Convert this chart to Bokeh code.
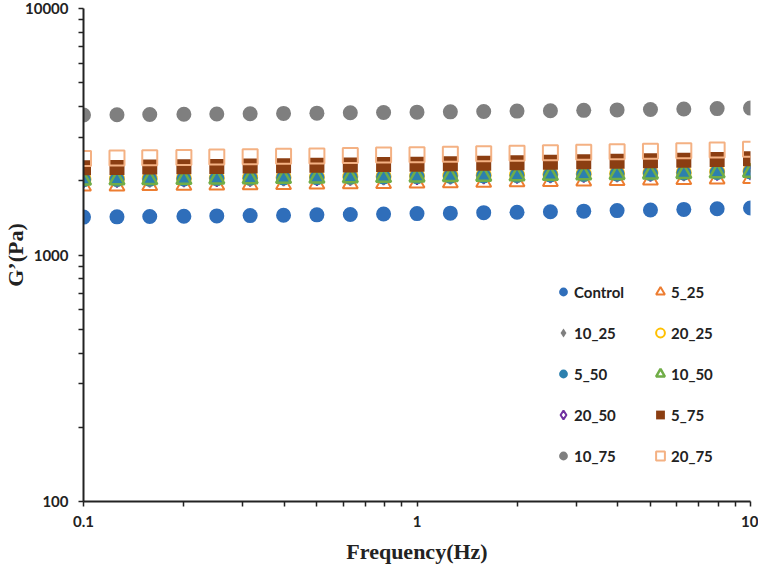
from bokeh.plotting import figure
from bokeh.models import Legend, LegendItem, FixedTicker, CustomJSTickFormatter
from bokeh.embed import file_html
from bokeh.resources import INLINE

freq = [0.1, 0.126, 0.158, 0.2, 0.251, 0.316, 0.398, 0.501, 0.631, 0.794, 1.0,
        1.259, 1.585, 1.995, 2.512, 3.162, 3.981, 5.012, 6.31, 7.943, 10.0]

control = [1425, 1428, 1432, 1436, 1441, 1445, 1450, 1455, 1460, 1466, 1472, 1478, 1485, 1491, 1498, 1506, 1514, 1522, 1531, 1541, 1552]
s5_25 = [1900, 1904, 1909, 1914, 1919, 1925, 1930, 1936, 1942, 1949, 1955, 1962, 1969, 1977, 1985, 1993, 2002, 2011, 2021, 2031, 2042]
s10_25 = [2040, 2045, 2050, 2056, 2062, 2068, 2074, 2080, 2087, 2094, 2101, 2109, 2117, 2125, 2134, 2143, 2152, 2162, 2173, 2184, 2196]
s20_25 = [2030, 2035, 2040, 2046, 2052, 2058, 2064, 2070, 2077, 2084, 2091, 2099, 2107, 2115, 2124, 2133, 2142, 2152, 2163, 2174, 2186]
s5_50 = [2020, 2025, 2030, 2035, 2041, 2047, 2053, 2059, 2066, 2073, 2080, 2087, 2095, 2103, 2112, 2121, 2130, 2140, 2150, 2161, 2173]
s10_50 = [2010, 2015, 2020, 2025, 2031, 2037, 2043, 2049, 2056, 2063, 2070, 2077, 2085, 2093, 2102, 2111, 2120, 2130, 2140, 2151, 2163]
s20_50 = [1995, 2000, 2005, 2010, 2016, 2022, 2028, 2034, 2041, 2048, 2055, 2062, 2070, 2078, 2087, 2096, 2105, 2115, 2125, 2136, 2148]
s5_75 = [2260, 2266, 2273, 2280, 2287, 2294, 2302, 2310, 2318, 2327, 2336, 2345, 2355, 2365, 2376, 2387, 2399, 2412, 2425, 2440, 2455]
s10_75 = [3700, 3707, 3715, 3724, 3733, 3743, 3753, 3763, 3774, 3785, 3797, 3809, 3822, 3835, 3849, 3863, 3878, 3893, 3909, 3926, 3944]
s20_75 = [2465, 2472, 2480, 2488, 2496, 2505, 2514, 2523, 2532, 2542, 2552, 2563, 2574, 2585, 2597, 2609, 2622, 2636, 2651, 2667, 2685]

labels = ["Control", "5_25", "10_25", "20_25", "5_50", "10_50", "20_50", "5_75", "10_75", "20_75"]
series = [control, s5_25, s10_25, s20_25, s5_50, s10_50, s20_50, s5_75, s10_75, s20_75]
# marker, size, fill color, line color, line width
styles = {
    "Control": ("circle", 15, "#2F6EBA", None, 0),
    "5_25": ("triangle", 15, None, "#ED7D31", 2),
    "10_25": ("diamond", 16, "#7F7F7F", None, 0),
    "20_25": ("circle", 14, None, "#FFC000", 2),
    "5_50": ("circle", 15, "#2C80AE", None, 0),
    "10_50": ("triangle", 15, None, "#70AD47", 2.5),
    "20_50": ("diamond", 13, None, "#7030A0", 2),
    "5_75": ("square", 15, "#8B3E12", None, 0),
    "10_75": ("circle", 15, "#7F7F7F", None, 0),
    "20_75": ("square", 15, None, "#F4B183", 2),
}
# drawing order (later on top)
draw_order = ["Control", "5_25", "10_25", "20_50", "20_25", "5_50", "10_50", "5_75", "10_75", "20_75"]

p = figure(width=758, height=566, x_axis_type="log", y_axis_type="log",
           x_range=(0.1, 10), y_range=(100, 10000),
           output_backend="svg", toolbar_location=None,
           min_border_left=81, min_border_right=8, min_border_top=8, min_border_bottom=64)

p.outline_line_color = None
p.xgrid.visible = False
p.ygrid.visible = False

data = dict(zip(labels, series))
renderers = {}
for lab in draw_order:
    mk, sz, fc, lc, lw = styles[lab]
    r = p.scatter(freq, data[lab], marker=mk, size=sz,
                  fill_color=fc if fc else None,
                  line_color=lc if lc else None,
                  line_width=lw if lw else 1)
    renderers[lab] = r

xt = FixedTicker(ticks=[0.1, 1, 10],
                 minor_ticks=[m * 10.0 ** e for e in (-1, 0) for m in range(2, 10)])
yt = FixedTicker(ticks=[100, 1000, 10000],
                 minor_ticks=[m * 10.0 ** e for e in (2, 3) for m in range(2, 10)])
p.xaxis.ticker = xt
p.yaxis.ticker = yt
p.xaxis.formatter = CustomJSTickFormatter(code="return tick < 1 ? tick.toFixed(1) : tick.toFixed(0);")
p.yaxis.formatter = CustomJSTickFormatter(code="return tick.toFixed(0);")

for ax in (p.xaxis, p.yaxis):
    ax.axis_line_color = "#222222"
    ax.axis_line_width = 2
    ax.major_tick_line_color = "#222222"
    ax.minor_tick_line_color = "#222222"
    ax.major_tick_line_width = 1.5
    ax.minor_tick_line_width = 1.5
    ax.major_tick_in = 0
    ax.major_tick_out = 5
    ax.minor_tick_in = 0
    ax.minor_tick_out = 5
    ax.major_label_text_font = "Lato"
    ax.major_label_text_font_style = "bold"
    ax.major_label_text_font_size = "15px"
    ax.major_label_text_color = "#222222"
    ax.axis_label_text_font = "Liberation Serif"
    ax.axis_label_text_font_style = "bold"
    ax.axis_label_text_font_size = "22px"
    ax.axis_label_text_color = "#222222"

p.xaxis.axis_label = "Frequency(Hz)"
p.yaxis.axis_label = "G\u2019(Pa)"
p.xaxis.major_label_standoff = 9
p.yaxis.major_label_standoff = 10
p.xaxis.axis_label_standoff = 9
p.yaxis.axis_label_standoff = -6

left_col = ["Control", "10_25", "5_50", "20_50", "10_75"]
right_col = ["5_25", "20_25", "10_50", "5_75", "20_75"]

def make_legend(names, loc):
    return Legend(items=[LegendItem(label=n, renderers=[renderers[n]]) for n in names],
                  location=loc, glyph_width=22, glyph_height=27,
                  spacing=14, label_standoff=0, padding=0, margin=0,
                  background_fill_alpha=0, border_line_color=None,
                  label_text_font="Lato", label_text_font_style="bold",
                  label_text_font_size="15px", label_text_color="#222222")

p.add_layout(make_legend(left_col, (469, 32)))
p.add_layout(make_legend(right_col, (566, 32)))

open("out.html", "w").write(file_html(p, INLINE))
